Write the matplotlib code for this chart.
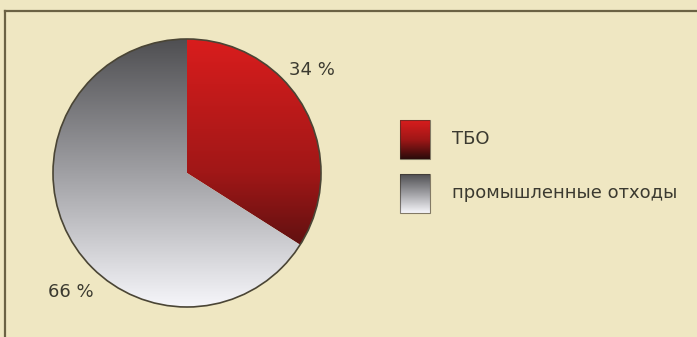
import matplotlib
matplotlib.use("Agg")
import matplotlib.pyplot as plt
import numpy as np
from matplotlib.colors import LinearSegmentedColormap
from matplotlib.patches import Rectangle

labels = ["ТБО", "промышленные отходы"]
shares = [34, 66]
pct_text = ["34 %", "66 %"]

W, H = 697, 337
bg = "#efe7c2"
ink = "#3b3a30"

# vertical gradients: top colour -> bottom colour
red_cm = LinearSegmentedColormap.from_list("red", ["#d91d1d", "#a01717", "#2a0b0b"])
gray_cm = LinearSegmentedColormap.from_list("gray", ["#4f4f52", "#a0a0a4", "#f6f6fa"])
cmaps = [red_cm, gray_cm]

fig = plt.figure(figsize=(W / 100, H / 100), dpi=100, facecolor=bg)
ax = fig.add_axes([0, 0, 1, 1])
ax.set_facecolor(bg)

# panel frame
ax.plot([5, W], [H - 11, H - 11], color="#6b6244", lw=1.6)
ax.plot([5, 5], [0, H - 11], color="#6b6244", lw=1.6)

cx, cy, r = 187, H - 173, 134
wedges, _ = ax.pie(shares, startangle=90, counterclock=False, center=(cx, cy),
                   radius=r, frame=True,
                   wedgeprops=dict(facecolor="none", edgecolor="none"))

grad = np.linspace(0, 1, 256).reshape(-1, 1)
for w, cm in zip(wedges, cmaps):
    im = ax.imshow(grad, cmap=cm, aspect="auto", origin="upper",
                   extent=(cx - r, cx + r, cy - r, cy + r), zorder=2)
    im.set_clip_path(w)

# outline of the disc
circ = plt.Circle((cx, cy), r, fill=False, ec="#4a4535", lw=1.2, zorder=3)
ax.add_patch(circ)

ax.text(312, H - 70, pct_text[0], fontsize=13, color=ink, ha="center", va="center")
ax.text(71, H - 292, pct_text[1], fontsize=13, color=ink, ha="center", va="center")

# legend with gradient swatches
box_y = [H - 159, H - 213]
for lab, cm, y0 in zip(labels, cmaps, box_y):
    ax.imshow(grad, cmap=cm, aspect="auto", origin="upper",
              extent=(400, 430, y0, y0 + 39), zorder=2)
    ax.add_patch(Rectangle((400, y0), 30, 39, fill=False, ec="#3a3228",
                           lw=0.8, alpha=0.6, zorder=3))
    ax.text(452, y0 + 19.5, lab, fontsize=13, color=ink, ha="left", va="center")

ax.set_xlim(0, W)
ax.set_ylim(0, H)
ax.set_aspect("auto")
ax.axis("off")

fig.savefig("out.png", dpi=100, facecolor=bg)
